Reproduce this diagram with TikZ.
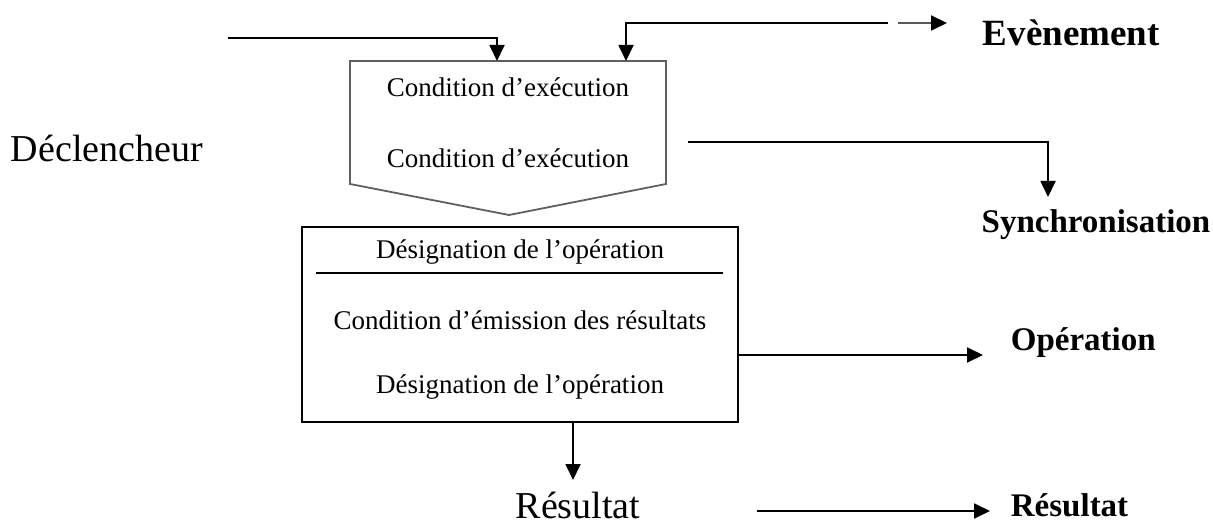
\documentclass[tikz,border=0pt]{standalone}
\usepackage{fontspec}
\setmainfont{Liberation Serif}
\usetikzlibrary{arrows.meta}
\begin{document}
\begin{tikzpicture}[x=0.5pt,y=-0.5pt,line width=0.9pt,
  conn/.style={-{Triangle[length=8pt,width=7.5pt,color=black]}},
  boxtext/.style={font=\fontsize{13.5}{15}\selectfont,inner sep=0pt},
  bigtext/.style={font=\fontsize{19}{21}\selectfont,inner sep=0pt},
  boldtext/.style={font=\fontsize{16.5}{18}\selectfont\bfseries,inner sep=0pt}]
\useasboundingbox (0,0) rectangle (1213,528);

% trigger block (pentagon pointing down)
\draw[gray!75!black] (350,61) coordinate (pTL) -- (666,61) coordinate (pTR)
  -- (666,184) -- (509,215) coordinate (pTip) -- (350,184) -- cycle;
\node[boxtext] (cond1) at (508,87) {Condition d’exécution};
\node[boxtext] (cond2) at (508,158) {Condition d’exécution};

% operation block
\node[draw,minimum width=218pt,minimum height=97.5pt,inner sep=0pt] (op) at (520,324.5) {};
\draw ([xshift=7.5pt]op.west |- 0,273) coordinate (sepL) -- ([xshift=-8pt]op.east |- 0,273) coordinate (sepR);
\node[boxtext] (desig1) at (520,252) {Désignation de l’opération};
\node[boxtext] (emis) at (520,320) {Condition d’émission des résultats};
\node[boxtext] (desig2) at (520,387) {Désignation de l’opération};

% labels
\node[bigtext,anchor=west] (decl) at (10,148) {Déclencheur};
\node[bigtext,anchor=base] (res1) at (578,518) {Résultat};
\node[boldtext,font=\fontsize{18.5}{20}\selectfont\bfseries,anchor=west] (ev) at (982,33) {Evènement};
\node[boldtext] (sync) at (1096,225) {Synchronisation};
\node[boldtext,anchor=west] (oper) at (1010,343) {Opération};
\node[boldtext,anchor=west] (res2) at (1010,505) {Résultat};

% incoming connectors
\coordinate (in1src) at (228,38);
\coordinate (in1) at (497,61);
\draw[conn] (in1src) -| (in1);
\coordinate (in2src) at (888,23);
\coordinate (in2) at (626,61);
\draw[conn] (in2src) -| (in2);

% event arrow
\coordinate (evsrc) at (898,23);
\coordinate (evtip) at (947,23);
\draw[conn,gray!70!black] (evsrc) -- (evtip);

% synchronisation arrow
\coordinate (syncsrc) at (688,142);
\coordinate (synctip) at (1048,197);
\draw[conn] (syncsrc) -| (synctip);

% operation outputs
\draw[conn] (op.east |- 0,355) -- (983,355) coordinate (opertip);
\draw[conn] (op.south -| 573,0) -- (573,480) coordinate (res1tip);

% result arrow
\coordinate (ressrc) at (757,511);
\coordinate (restip) at (990,511);
\draw[conn] (ressrc) -- (restip);
\end{tikzpicture}
\end{document}
